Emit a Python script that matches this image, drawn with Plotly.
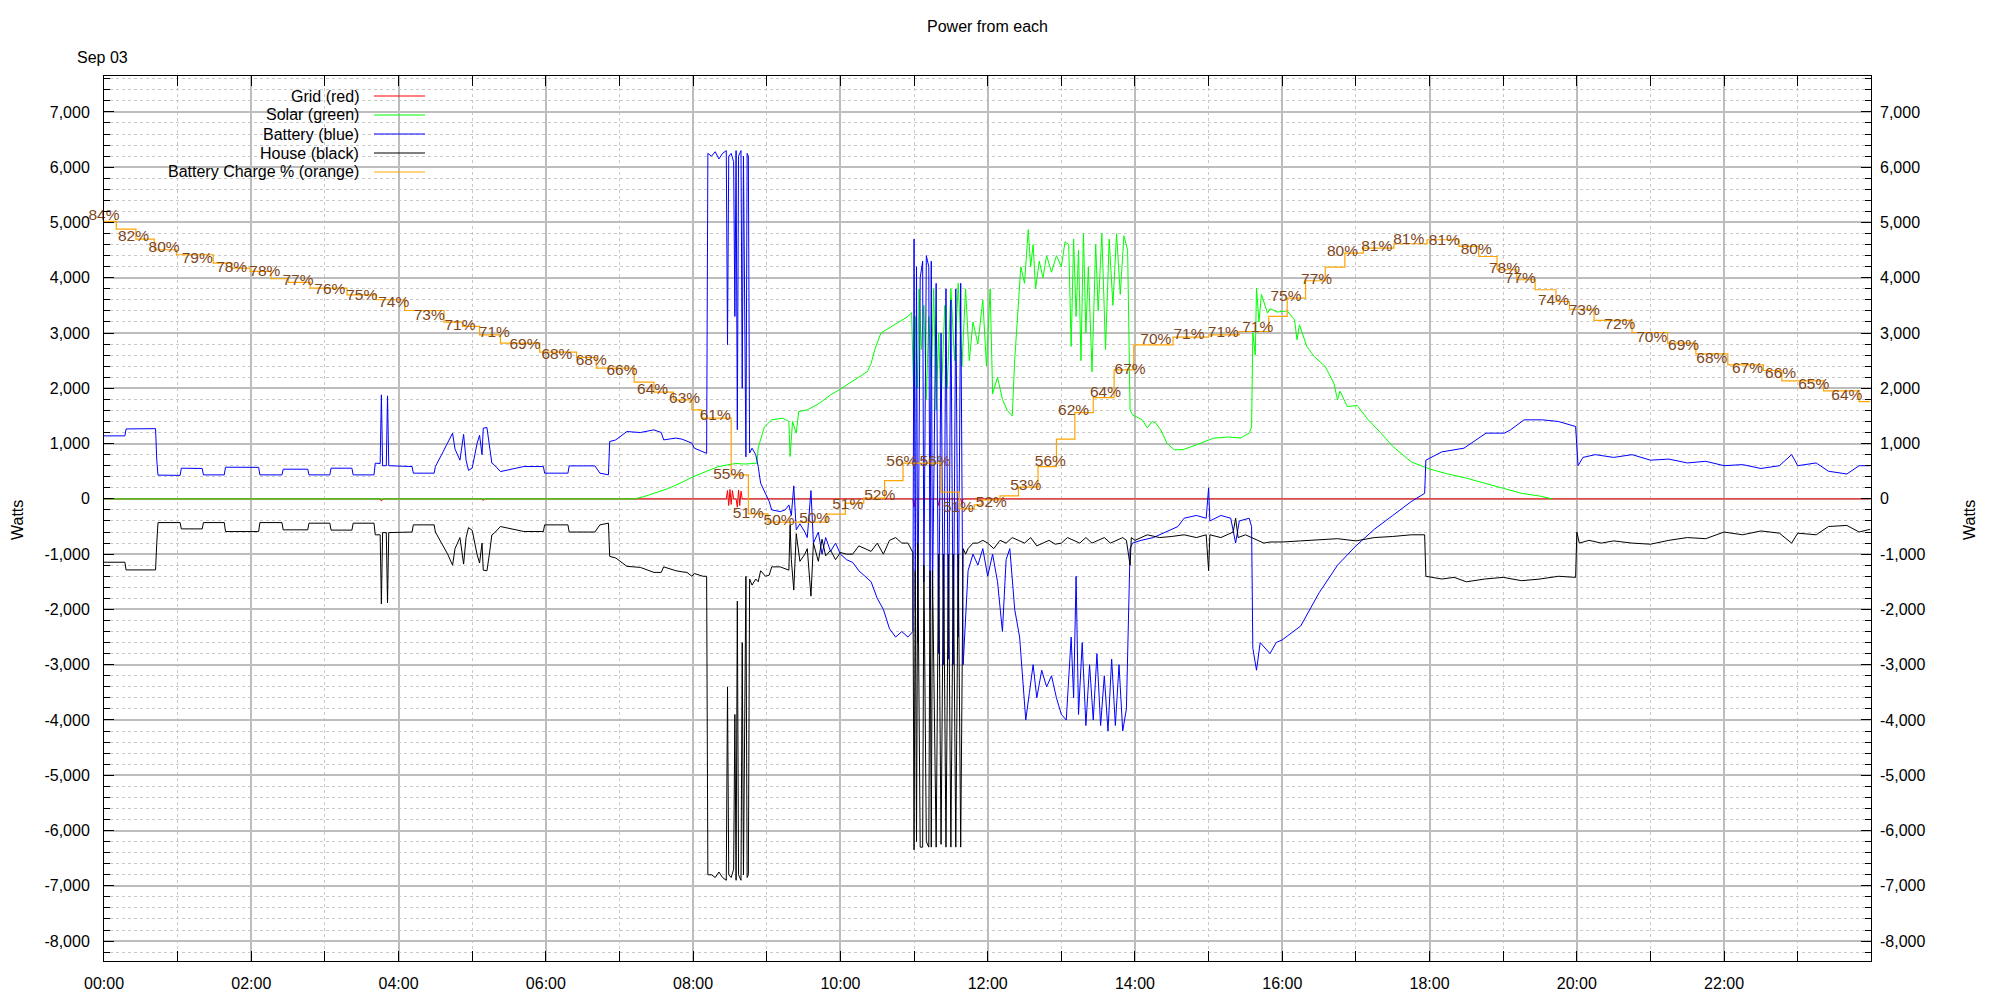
import plotly.graph_objects as go

DAY = "2023-09-03 "

# ---------------- data (time HH:MM, watts) ----------------
grid = [("00:00",0),("03:45",0),("03:46",-40),("03:47",0),("05:08",0),("05:09",-30),("05:10",0),
        ("08:27",0),("08:28",150),("08:29",-120),("08:30",170),("08:31",-100),("08:32",150),("08:33",0),
        ("08:35",0),("08:36",-150),("08:37",160),("08:38",-120),("08:39",140),("08:40",0),
        ("10:59",0),("11:00",-150),("11:01",0),("11:19",0),("11:20",-120),("11:21",0),
        ("11:38",0),("11:39",-100),("11:40",0),("23:59",0)]

solar = [("00:00",0),("07:12",0),("07:20",40),("07:30",110),("07:40",190),("07:50",290),("08:00",400),
         ("08:10",490),("08:20",580),("08:28",615),("08:35",640),("08:42",630),("08:52",646),("08:53",923),
         ("08:58",1300),("09:04",1430),("09:13",1460),("09:18",1400),("09:19",766),("09:21",1400),("09:24",1189),
         ("09:26",1580),("09:33",1610),("09:43",1732),("09:52",1882),("09:59",1973),("10:11",2154),("10:22",2304),
         ("10:25",2450),("10:28",2700),("10:33",3000),("10:40",3100),("10:48",3200),("10:55",3300),("10:58",3370),
         ("11:00",1650),("11:01",3300),("11:03",2000),("11:04",3800),("11:06",2700),("11:08",3500),("11:10",1800),
         ("11:12",3300),("11:14",2200),("11:16",3800),("11:18",1600),("11:20",3000),("11:22",1700),("11:25",3500),
         ("11:27",2000),("11:30",3800),("11:33",2500),("11:36",3900),("11:39",2400),("11:42",3800),("11:45",2500),
         ("11:48",3200),("11:52",2800),("11:56",3600),("11:59",2400),("12:02",3800),("12:04",1900),("12:08",2200),
         ("12:12",1800),("12:16",1600),("12:20",1500),("12:22",2516),("12:24",3118),("12:27",4200),("12:30",3900),
         ("12:33",4869),("12:35",4200),("12:37",4600),("12:39",3800),("12:42",4300),("12:45",4000),("12:48",4400),
         ("12:52",4100),("12:56",4400),("13:00",4200),("13:03",4650),("13:06",4600),("13:08",2757),("13:10",4700),
         ("13:12",3300),("13:14",4500),("13:16",2500),("13:18",4800),("13:20",3000),("13:22",4200),("13:25",2300),
         ("13:28",4600),("13:30",3400),("13:33",4800),("13:36",2700),("13:39",4700),("13:42",3500),("13:45",4800),
         ("13:48",3700),("13:51",4760),("13:54",4500),("13:56",1610),("13:58",1520),("14:06",1430),("14:10",1285),
         ("14:14",1400),("14:17",1370),("14:21",1249),("14:26",1008),("14:32",887),("14:39",890),("14:50",977),
         ("15:04",1098),("15:16",1120),("15:26",1100),("15:33",1189),("15:35",1300),("15:36",3000),("15:38",2600),
         ("15:39",3813),("15:41",3200),("15:43",3700),("15:48",3360),("15:50",3440),("15:56",3380),("16:04",3400),
         ("16:10",3240),("16:12",2878),("16:14",3150),("16:20",2757),("16:26",2575),("16:35",2395),("16:42",2094),
         ("16:45",1792),("16:47",1950),("16:53",1670),("17:01",1690),("17:10",1430),("17:20",1200),("17:30",950),
         ("17:45",670),("18:00",540),("18:15",450),("18:30",375),("18:45",280),("19:00",190),("19:15",100),
         ("19:30",50),("19:40",0)]

battery = [("00:00",1140),("00:17",1140),("00:18",1265),("00:42",1270),("00:43",700),("00:44",430),
           ("01:02",425),("01:03",555),("01:20",550),("01:21",434),("01:38",434),("01:39",573),
           ("02:06",570),("02:07",434),("02:25",434),("02:26",537),("02:46",537),("02:47",434),
           ("03:04",434),("03:05",555),("03:22",555),("03:23",434),("03:40",434),("03:41",646),
           ("03:45",640),("03:46",1882),("03:47",600),("03:50",600),("03:51",1864),("03:52",600),
           ("04:11",585),("04:12",465),("04:29",465),("04:30",585),("04:35",796),("04:40",1000),
           ("04:44",1189),("04:46",900),("04:50",700),("04:53",1167),("04:55",700),("04:57",515),
           ("05:00",560),("05:04",1008),("05:06",1150),("05:08",800),("05:09",1280),("05:12",1290),
           ("05:14",1000),("05:16",646),("05:18",615),("05:23",494),("05:42",585),("05:58",585),
           ("05:59",465),("06:18",465),("06:19",597),("06:40",597),("06:44",465),("06:51",435),
           ("06:52",1037),("06:57",1067),("07:06",1218),("07:17",1200),("07:28",1249),("07:34",1200),
           ("07:36",1067),("07:46",1100),("07:51",1080),("07:55",1037),("07:59",1008),("08:01",917),
           ("08:08",856),("08:11",824),
           ("08:12",6250),("08:15",6200),("08:18",6280),("08:21",6150),("08:24",6250),("08:27",6300),
           ("08:28",2790),("08:29",6200),("08:31",6250),("08:33",6100),("08:34",3300),("08:35",6300),
           ("08:36",1250),("08:37",6200),("08:39",6300),("08:40",2000),("08:41",6200),("08:43",760),
           ("08:44",6250),("08:45",6200),("08:46",830),("08:48",917),("08:51",800),("08:53",585),
           ("08:55",284),("08:59",103),("09:02",-49),("09:04",-199),("09:11",-230),("09:15",-200),
           ("09:18",-109),("09:20",-300),("09:22",235),("09:24",-561),("09:27",-450),("09:31",-600),
           ("09:33",-700),("09:36",150),("09:38",-800),("09:42",-600),("09:45",-1000),("09:48",-700),
           ("09:52",-950),("09:56",-800),("10:00",-1000),("10:05",-1100),("10:10",-1150),("10:15",-1300),
           ("10:20",-1400),("10:25",-1500),("10:30",-1800),("10:35",-2000),("10:40",-2350),("10:45",-2500),
           ("10:50",-2400),("10:55",-2500),("10:59",-2400),
           ("11:00",4700),("11:01",-2000),("11:02",4200),("11:03",-2600),("11:05",4000),("11:07",4300),
           ("11:08",-1500),("11:10",4400),("11:12",4200),("11:13",-2000),("11:14",4300),("11:15",-1800),
           ("11:18",3900),("11:20",-2800),("11:22",3000),("11:24",-3000),("11:26",3800),("11:28",-2900),
           ("11:30",3600),("11:32",-3000),("11:34",3800),("11:36",-2500),("11:38",3900),("11:40",-3000),
           ("11:42",-2200),("11:44",-1300),("11:48",-1000),
           ("11:52",-1200),("11:56",-900),("12:00",-1400),("12:04",-1000),("12:08",-1500),("12:12",-2400),
           ("12:15",-1100),("12:18",-900),("12:22",-2000),("12:26",-2500),("12:29",-3500),("12:31",-4000),
           ("12:34",-3500),("12:37",-3000),("12:40",-3600),("12:44",-3100),("12:48",-3400),("12:52",-3200),
           ("12:56",-3600),("13:00",-3900),("13:04",-4000),("13:08",-2500),("13:10",-3600),("13:12",-1400),
           ("13:14",-3900),("13:17",-2600),("13:20",-4100),("13:23",-3000),("13:26",-4000),("13:29",-2800),
           ("13:32",-4100),("13:35",-3200),("13:38",-4200),("13:41",-2900),("13:44",-4100),("13:47",-3000),
           ("13:50",-4200),("13:53",-3800),("13:56",-900),("13:58",-800),("14:05",-750),("14:15",-700),
           ("14:25",-600),("14:35",-500),("14:40",-350),("14:50",-300),("14:58",-350),("15:00",200),
           ("15:01",-400),("15:10",-300),("15:18",-350),("15:22",-800),("15:25",-400),("15:33",-350),
           ("15:35",-500),("15:36",-2700),("15:39",-3100),("15:42",-2600),("15:50",-2800),("15:55",-2600),
           ("16:00",-2550),("16:15",-2300),("16:30",-1700),("16:45",-1200),("17:00",-850),("17:15",-550),
           ("17:30",-300),("17:45",-50),("17:56",100),("17:57",700),("18:10",850),("18:28",917),
           ("18:46",1189),("19:01",1189),("19:06",1249),("19:17",1430),("19:32",1430),("19:45",1400),
           ("19:59",1309),("20:01",600),("20:05",750),("20:15",800),("20:30",750),("20:45",800),
           ("21:00",700),("21:15",720),("21:30",650),("21:45",680),("22:00",600),("22:15",620),
           ("22:30",550),("22:45",600),("22:55",800),("23:00",600),("23:15",650),("23:25",500),
           ("23:40",450),("23:50",600),("23:59",600)]

house = [("00:00",-1146),("00:17",-1146),("00:18",-1285),("00:42",-1285),("00:43",-800),("00:44",-429),
         ("01:02",-429),("01:03",-543),("01:20",-543),("01:21",-429),("01:38",-429),("01:39",-591),
         ("02:06",-591),("02:07",-429),("02:25",-429),("02:26",-560),("02:46",-560),("02:47",-440),
         ("03:04",-440),("03:05",-565),("03:22",-565),("03:23",-440),("03:40",-440),("03:41",-650),
         ("03:45",-650),("03:46",-1900),("03:47",-610),("03:50",-610),("03:51",-1880),("03:52",-610),
         ("04:11",-600),("04:12",-470),("04:29",-470),("04:30",-600),("04:35",-800),("04:40",-1000),
         ("04:44",-1200),("04:46",-900),("04:50",-700),("04:53",-1180),("04:55",-700),("04:57",-520),
         ("05:00",-570),("05:04",-1010),("05:06",-1160),("05:08",-800),("05:09",-1290),("05:12",-1300),
         ("05:14",-1000),("05:16",-650),("05:18",-620),("05:23",-500),("05:42",-590),("05:58",-590),
         ("05:59",-470),("06:18",-470),("06:19",-600),("06:40",-600),("06:44",-470),("06:51",-440),
         ("06:52",-1040),("06:57",-1070),("07:06",-1220),("07:17",-1240),("07:28",-1330),("07:34",-1330),
         ("07:36",-1230),("07:46",-1300),("07:51",-1320),("07:55",-1330),("07:59",-1400),("08:01",-1350),
         ("08:08",-1400),("08:11",-1400),
         ("08:12",-6800),("08:15",-6800),("08:18",-6850),("08:21",-6750),("08:24",-6850),("08:27",-6900),
         ("08:28",-3400),("08:29",-6800),("08:31",-6850),("08:33",-6700),("08:34",-3900),("08:35",-6900),
         ("08:36",-1850),("08:37",-6800),("08:39",-6900),("08:40",-2600),("08:41",-6800),("08:43",-1400),
         ("08:44",-6850),("08:45",-6800),("08:46",-1450),("08:48",-1560),("08:51",-1450),("08:53",-1500),
         ("08:55",-1300),("08:59",-1400),("09:02",-1380),("09:04",-1230),("09:11",-1230),("09:15",-1260),
         ("09:18",-1290),("09:19",-466),("09:20",-1100),("09:22",-1650),("09:24",-630),("09:27",-1130),
         ("09:31",-1000),("09:33",-900),("09:36",-1760),("09:38",-800),("09:42",-1130),("09:45",-730),
         ("09:48",-1030),("09:52",-930),("09:56",-1100),("10:00",-970),("10:05",-1000),("10:10",-1000),
         ("10:15",-850),("10:20",-900),("10:25",-950),("10:30",-800),("10:35",-1000),("10:40",-750),
         ("10:45",-700),("10:50",-800),("10:55",-800),("10:59",-970),
         ("11:00",-6350),("11:01",-1300),("11:02",-6200),("11:03",-800),("11:05",-6300),("11:07",-6300),
         ("11:08",-1200),("11:10",-6200),("11:12",-6300),("11:13",-1300),("11:14",-6300),("11:15",-1300),
         ("11:18",-6300),("11:20",-1000),("11:22",-6250),("11:24",-1000),("11:26",-6300),("11:28",-1000),
         ("11:30",-6300),("11:32",-1000),("11:34",-6300),("11:36",-1000),("11:38",-6300),("11:40",-900),
         ("11:42",-1000),("11:44",-900),("11:48",-800),
         ("11:52",-800),("11:56",-750),("12:00",-800),("12:05",-900),("12:10",-750),("12:15",-800),
         ("12:20",-700),("12:25",-750),("12:30",-800),("12:35",-700),("12:40",-850),("12:45",-800),
         ("12:50",-750),("12:55",-820),("13:00",-800),("13:05",-700),("13:10",-750),("13:15",-800),
         ("13:20",-700),("13:25",-800),("13:30",-750),("13:35",-700),("13:40",-800),("13:45",-750),
         ("13:50",-700),("13:53",-750),("13:56",-1200),("13:57",-700),("14:00",-750),("14:10",-650),
         ("14:20",-700),("14:30",-680),("14:40",-650),("14:50",-700),("14:58",-650),("15:00",-1300),
         ("15:01",-650),("15:10",-700),("15:20",-600),("15:22",-350),("15:24",-700),("15:30",-650),
         ("15:40",-750),("15:45",-800),("15:50",-780),("16:00",-780),("16:15",-760),("16:30",-740),
         ("16:45",-720),("17:00",-760),("17:15",-700),("17:30",-680),("17:45",-650),("17:56",-650),
         ("17:57",-1400),("18:10",-1450),("18:20",-1420),("18:30",-1500),("18:45",-1450),("19:00",-1420),
         ("19:15",-1480),("19:30",-1450),("19:45",-1400),("19:59",-1420),("20:00",-600),("20:02",-800),
         ("20:10",-750),("20:20",-800),("20:30",-760),("20:45",-800),("21:00",-820),("21:15",-750),
         ("21:30",-700),("21:45",-720),("22:00",-600),("22:15",-650),("22:30",-580),("22:45",-620),
         ("22:55",-800),("23:00",-620),("23:15",-650),("23:25",-500),("23:40",-480),("23:50",-600),
         ("23:59",-550)]

# battery charge step line (plotted on the watts scale) and its % labels
charge_line = [("00:00",5020),("00:10",4881),("00:26",4700),("00:41",4507),("00:59",4416),("01:29",4265),
               ("01:44",4175),("01:59",4114),("02:16",3982),("02:30",3915),("02:48",3813),("03:18",3692),
               ("03:42",3602),("04:05",3408),("04:37",3198),("04:52",3119),("05:06",2968),("05:23",2818),
               ("05:55",2655),("06:25",2558),("06:41",2365),("07:12",2112),("07:28",1931),("07:44",1792),
               ("07:59",1611),("08:07",1460),("08:31",434),("08:45",-271),("09:01",-422),("09:49",-277),
               ("10:04",-78),("10:19",13),("10:36",331),("10:51",646),("11:22",121),("11:37",-181),
               ("11:49",-109),("11:55",-18),("12:10",54),("12:25",212),("12:41",585),("12:56",1080),
               ("13:11",1562),("13:26",1830),("13:43",2335),("13:59",2787),("14:31",2926),("15:00",2968),
               ("15:25",3028),("15:49",3300),("16:04",3632),("16:19",3946),("16:35",4193),("16:51",4446),
               ("17:06",4537),("17:31",4615),("17:58",4688),("18:24",4567),("18:40",4385),("18:55",4145),
               ("19:11",3964),("19:26",3783),("19:43",3571),("19:54",3430),("20:14",3228),("20:45",3010),
               ("21:14",2818),("21:37",2624),("22:03",2425),("22:32",2322),("22:47",2136),("23:21",1955),
               ("23:50",1761),("23:59",1761)]

charge_labels = [("00:00",5122,"84%"),("00:24",4737,"82%"),("00:49",4537,"80%"),("01:16",4344,"79%"),
                 ("01:44",4175,"78%"),("02:11",4103,"78%"),("02:38",3933,"77%"),("03:04",3783,"76%"),
                 ("03:30",3662,"75%"),("03:56",3535,"74%"),("04:25",3312,"73%"),("04:50",3119,"71%"),
                 ("05:18",2999,"71%"),("05:43",2775,"69%"),("06:09",2594,"68%"),("06:37",2485,"68%"),
                 ("07:02",2304,"66%"),("07:27",1960,"64%"),("07:53",1810,"63%"),("08:18",1502,"61%"),
                 ("08:29",434,"55%"),("08:45",-271,"51%"),("09:10",-411,"50%"),("09:39",-367,"50%"),
                 ("10:06",-121,"51%"),("10:32",42,"52%"),("10:50",657,"56%"),("11:17",657,"56%"),
                 ("11:36",-168,"51%"),("12:03",-78,"52%"),("12:31",223,"53%"),("12:51",657,"56%"),
                 ("13:10",1580,"62%"),("13:36",1913,"64%"),("13:56",2335,"67%"),("14:17",2878,"70%"),
                 ("14:44",2968,"71%"),("15:12",2999,"71%"),("15:40",3090,"71%"),("16:03",3650,"75%"),
                 ("16:28",3964,"77%"),("16:49",4458,"80%"),("17:17",4555,"81%"),("17:43",4675,"81%"),
                 ("18:12",4657,"81%"),("18:38",4507,"80%"),("19:01",4157,"78%"),("19:14",3982,"77%"),
                 ("19:41",3584,"74%"),("20:06",3390,"73%"),("20:35",3149,"72%"),("21:01",2909,"70%"),
                 ("21:27",2757,"69%"),("21:50",2534,"68%"),("22:19",2348,"67%"),("22:46",2262,"66%"),
                 ("23:13",2063,"65%"),("23:40",1852,"64%")]

series_names = ["Grid (red)", "Solar (green)", "Battery (blue)", "House (black)", "Battery Charge % (orange)"]
series_colors = ["#ff0000", "#00ff00", "#0000ff", "#000000", "#ffa500"]

y_tick_vals = list(range(-8000, 8000, 1000))
y_tick_text = [f"{v:,}" for v in y_tick_vals]
x_tick_text_fmt = "%H:%M"

# ---------------- geometry (screen pixels; page body adds an 8px offset) ----------------
OFF = 8
W, H = 2000 - OFF, 1000 - OFF
L, R, T, B = 104, 1871, 76, 961          # plot box on screen
def px(x):
    return (x - L) / (R - L)
def py(y):
    return (B - y) / (B - T)

def xs(pairs):
    return [DAY + p[0] for p in pairs]
def ys(pairs):
    return [p[1] for p in pairs]

FONT = "Liberation Sans, Arial, sans-serif"

fig = go.Figure()
for data, name, color in zip([grid, solar, battery, house], series_names[:4], series_colors[:4]):
    fig.add_trace(go.Scatter(x=xs(data), y=ys(data), mode="lines", name=name,
                             line=dict(color=color, width=1), showlegend=False, hoverinfo="skip"))

fig.add_trace(go.Scatter(x=xs(charge_line), y=ys(charge_line), mode="lines", name=series_names[4],
                         line=dict(color=series_colors[4], width=1.2, shape="hv"),
                         showlegend=False, yaxis="y2", hoverinfo="skip"))
fig.add_trace(go.Scatter(x=[DAY + c[0] for c in charge_labels], y=[c[1] for c in charge_labels],
                         text=[c[2] for c in charge_labels], mode="text",
                         textfont=dict(color="#80461b", size=15.5, family=FONT),
                         textposition="middle center", cliponaxis=False, showlegend=False,
                         yaxis="y2", hoverinfo="skip"))

grid_major = "#bdbdbd"
grid_minor = "#c8c8c8"
yaxis_common = dict(range=[-8360, 7650], tickmode="array", tickvals=y_tick_vals, ticktext=y_tick_text,
                    ticks="inside", ticklen=10, tickcolor="black", tickwidth=1,
                    tickfont=dict(size=16, family=FONT, color="black"), zeroline=False)

fig.update_layout(
    width=W, height=H,
    margin=dict(l=L - OFF, r=W - (R - OFF), t=T - OFF, b=H - (B - OFF), autoexpand=False),
    plot_bgcolor="white", paper_bgcolor="white",
    font=dict(family=FONT, size=16, color="black"),
    showlegend=False,
    xaxis=dict(type="date", range=[DAY + "00:00", DAY + "23:59:40"],
               tick0=DAY + "00:00", dtick=7200000, tickformat=x_tick_text_fmt,
               ticks="inside", ticklen=10, tickcolor="black", mirror="allticks",
               showline=True, linecolor="black", linewidth=1,
               showgrid=True, gridcolor=grid_major, gridwidth=1.5, zeroline=False,
               tickfont=dict(size=16, family=FONT, color="black"), ticklabelstandoff=8,
               minor=dict(dtick=3600000, ticks="inside", ticklen=5, tickcolor="black",
                          showgrid=True, gridcolor=grid_minor, gridwidth=1, griddash="3px,3px")),
    yaxis=dict(**yaxis_common, showline=True, linecolor="black", linewidth=1, mirror=True,
               showgrid=True, gridcolor=grid_major, gridwidth=1.5, ticklabelstandoff=10,
               minor=dict(dtick=200, ticks="inside", ticklen=6, tickcolor="black",
                          showgrid=True, gridcolor=grid_minor, gridwidth=1, griddash="3px,3px")),
    yaxis2=dict(**yaxis_common, overlaying="y", side="right", matches="y", showgrid=False,
                showline=False, ticklabelstandoff=8,
                minor=dict(dtick=200, ticks="inside", ticklen=6, tickcolor="black", showgrid=False)),
)

# legend (gnuplot style: right aligned text, line sample at right)
fig.add_shape(type="rect", xref="paper", yref="paper", x0=px(L), x1=px(433), y0=py(185), y1=py(83),
              fillcolor="white", line=dict(width=0), layer="between")
for i, (name, color) in enumerate(zip(series_names, series_colors)):
    yy = py(96 + 19 * i)
    fig.add_annotation(text=name, xref="paper", yref="paper", x=px(361), y=yy, xanchor="right",
                       yanchor="middle", showarrow=False, font=dict(size=16, family=FONT, color="black"))
    fig.add_shape(type="line", xref="paper", yref="paper", x0=px(374), x1=px(425), y0=yy, y1=yy,
                  line=dict(color=color, width=1.2))

fig.add_annotation(text="Power from each", xref="paper", yref="paper", x=0.5, y=py(27),
                   xanchor="center", yanchor="middle", showarrow=False, font=dict(size=16, family=FONT))
fig.add_annotation(text="Sep 03", xref="paper", yref="paper", x=px(102), y=py(57),
                   xanchor="center", yanchor="middle", showarrow=False, font=dict(size=16, family=FONT))
fig.add_annotation(text="Watts", xref="paper", yref="paper", x=px(17), y=py(520), textangle=-90,
                   xanchor="center", yanchor="middle", showarrow=False, font=dict(size=16, family=FONT))
fig.add_annotation(text="Watts", xref="paper", yref="paper", x=px(1969), y=py(520), textangle=-90,
                   xanchor="center", yanchor="middle", showarrow=False, font=dict(size=16, family=FONT))

fig.write_html("out.html")
